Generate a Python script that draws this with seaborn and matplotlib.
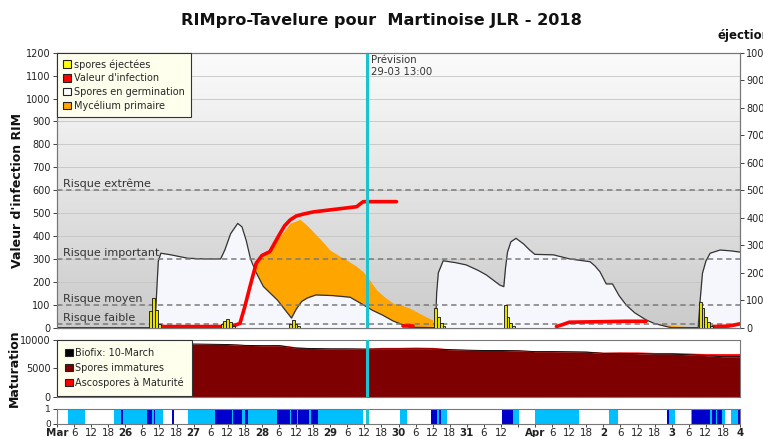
import numpy as np
import pandas as pd
import matplotlib
matplotlib.use("Agg")
import matplotlib.pyplot as plt
from matplotlib.patches import Patch
from matplotlib.colors import LinearSegmentedColormap
import seaborn as sns

# ---------------- data (hours since 25 March 00:00) ----------------
title = "RIMpro-Tavelure pour  Martinoise JLR - 2018"

germ_h = [0, 34.4, 35, 35.6, 36.5, 40, 46, 52, 57.5, 59, 61, 63.5, 65, 66.5, 68, 70, 72.5, 75,
          77.5, 80, 82.4, 84, 86, 88, 91, 97, 103, 107.6, 111, 114.4, 118, 121.7, 124, 133,
          133.4, 134, 135.7, 140, 143.8, 148, 150.9, 155.6, 157, 157.6, 158.3, 159.5, 161.3,
          164, 166, 167.9, 174.4, 180.2, 187.3, 189, 190.8, 193, 195.2, 197.5, 200, 203, 207,
          210, 214.2, 216, 225.3, 226, 226.8, 228, 229.5, 233, 237, 240]
germ_v = [0, 0, 150, 290, 325, 318, 303, 300, 300, 340, 410, 455, 440, 380, 300, 240, 180, 150,
          120, 80, 42, 80, 115, 130, 143, 140, 133, 100, 75, 55, 30, 12, 2, 0,
          150, 240, 292, 284, 274, 250, 230, 186, 179, 260, 330, 375, 390,
          365, 340, 320, 318, 300, 288, 270, 244, 191, 191, 140, 99, 65, 34,
          18, 5, 0, 0, 120, 237, 290, 325, 339, 335, 330]

myc_h = [0, 64, 66, 69.5, 72.4, 75, 77.2, 80, 81.9, 85.4, 88, 90, 93, 95.9, 99, 101.8, 105,
         107.6, 110, 112.3, 115, 118.2, 121, 124, 127, 130, 132, 132.5, 205, 207, 212, 218,
         222, 224, 240]
myc_v = [0, 0, 200, 288, 310, 350, 383, 425, 456, 473, 445, 419, 380, 339, 315, 295, 270,
         244, 205, 165, 135, 106, 99, 85, 65, 45, 34, 0, 0, 30, 15, 8,
         5, 0, 0]

inf_h = [37, 50, 58, 62, 64.3, 66, 67.8, 70, 72, 74.8, 76.5, 78.4, 80, 81.9, 84, 86.6, 90,
         95.9, 100, 105.3, 106.5, 107.6, 119.3,
         121.5, 125,
         175.5, 178, 180, 190, 200, 207,
         230.5, 236, 238, 240]
inf_v = [5, 5, 5, 8, 19, 92, 179, 281, 315, 332, 370, 412, 445, 470, 487, 496, 505,
         514, 520, 528, 540, 550, 550,
         6, 6,
         5, 15, 24, 26, 28, 28,
         5, 7, 12, 17]
inf_seg = [1] * 23 + [2] * 2 + [3] * 6 + [4] * 4

eject_h = [33, 34, 35, 36, 58, 59, 60, 61, 62, 82, 83, 84, 85,
           133, 134, 135, 136, 157.5, 158.5, 159.5, 160.5, 226, 227, 228, 229, 230]
eject_v = [60, 107, 64, 15, 15, 25, 31, 20, 8, 15, 28, 15, 5,
           71, 40, 18, 6, 83, 40, 16, 5, 93, 70, 40, 20, 8]

risk_levels = [600, 300, 100, 15]
risk_labels = ["Risque extrême", "Risque important", "Risque moyen", "Risque faible"]

mat_h = list(range(0, 241, 6))
mat_immature = [9300, 9300, 9300, 9300, 9300, 9300, 9300, 9300, 9300, 9250, 9200, 9050, 9000,
                9000, 8550, 8500, 8450, 8450, 8400, 8400, 8400, 8400, 8400, 8300, 8200, 8150,
                8150, 8100, 7950, 7950, 7900, 7850, 7650, 7650, 7600, 7500, 7500, 7400, 7250,
                7050, 7050]
mat_mature = [50, 50, 50, 50, 50, 50, 50, 50, 50, 100, 150, 150, 150, 200, 250, 100, 100, 100,
              150, 300, 300, 350, 300, 150, 150, 150, 150, 150, 150, 200, 200, 200, 200, 250,
              300, 300, 300, 300, 350, 550, 550]

wet_start = [0, 4, 10, 20, 22.5, 23.3, 31.5, 33.3, 34, 34.4, 37.4, 40.3, 41.1, 46.1, 55.5,
             61.4, 61.9, 64.9, 66, 67.2, 77.2, 81.8, 82.4, 84.2, 84.7, 88.6, 89.2, 91.8, 107.4,
             120.5, 122.9, 131.4, 133.4, 134.2, 135.1, 137.2, 156.5, 160.3, 162.2, 168, 183.6,
             193.8, 197.2, 214.2, 214.9, 217.2, 222.8, 223.3, 229.4, 230, 231.4, 232, 233.6,
             234.6, 237, 239.2]
wet_level = [0, 1, 0, 1, 2, 1, 2, 1, 2, 1, 0, 2, 0, 1, 2,
             1, 2, 1, 2, 1, 2, 1, 2, 1, 2, 1, 2, 1, 0,
             1, 0, 2, 1, 2, 1, 0, 2, 1, 0, 1, 0,
             1, 0, 2, 1, 0, 1, 2, 1, 2, 1, 2, 1,
             0, 1, 2]

day_labels = ["Mar", "26", "27", "28", "29", "30", "31", "Apr", "2", "3", "4"]
hidden_tick_labels = [162]
forecast_h = 109
forecast_text = "Prévision\n29-03 13:00"

# ---------------- style ----------------
sns.set_theme(style="white")
plt.rcParams['font.family'] = ['DejaVu Sans']
plt.rcParams['axes.linewidth'] = 0.8

fig = plt.figure(figsize=(7.63, 4.37), dpi=100)
W, H = 763, 437
L, R = 57, 740


def axes_px(top, bottom):
    return fig.add_axes([L / W, (H - bottom) / H, (R - L) / W, (bottom - top) / H])


ax = axes_px(52.7, 327.7)
axm = axes_px(340, 396.7)
axs = axes_px(408.7, 423.5)

# ---------------- main panel ----------------
grad = LinearSegmentedColormap.from_list("g", ["#cbcbcb", "#fbfbfb"])
ax.imshow(np.linspace(0, 1, 256).reshape(-1, 1), cmap=grad, origin="lower", aspect="auto",
          extent=[0, 240, 0, 1200], zorder=0)
for yv in range(100, 1200, 100):
    ax.axhline(yv, color="#c4c4c4", lw=0.6, zorder=1)
ax.fill_between(myc_h, 0, myc_v, color="#ffa500", lw=0, zorder=2)
ax.fill_between(germ_h, 0, germ_v, color="#f6f7fc", lw=0, zorder=3)
germ_df = pd.DataFrame({"h": germ_h, "v": germ_v})
sns.lineplot(data=germ_df, x="h", y="v", ax=ax, color="#333333", lw=0.9, zorder=4,
             estimator=None, sort=False)
for lv, lab in zip(risk_levels, risk_labels):
    ax.axhline(lv, color="#7a7a7a", lw=1.1, ls=(0, (3.5, 2.5)), zorder=5)
    ax.text(2, lv + 4, lab, fontsize=8, color="#333333", va="bottom", ha="left", zorder=6)
inf_df = pd.DataFrame({"h": inf_h, "v": inf_v, "seg": inf_seg})
sns.lineplot(data=inf_df, x="h", y="v", units="seg", estimator=None, ax=ax, color="#ff0000",
             lw=2.6, zorder=7, sort=False)
ax.axvline(forecast_h, color="#19c3cf", lw=2.2, zorder=8)
ax.text(forecast_h + 1.5, 1190, forecast_text, fontsize=7.3, color="#333333", va="top",
        ha="left", linespacing=1.25, zorder=9)
ax.set_xlim(0, 240)
ax.set_ylim(0, 1200)
ax.set_yticks(range(0, 1201, 100))
ax.set_xticks([])
ax.set_xlabel("")
ax.set_ylabel("")
ax.tick_params(axis="y", labelsize=7, colors="#222222", length=3, width=0.6, pad=1.5,
               left=True)
for sp in ax.spines.values():
    sp.set_color("#777777")
ax.spines["bottom"].set_color("#222222")

ax2 = ax.twinx()
ax2.bar(eject_h, eject_v, width=1.0, color="#e6e000", edgecolor="#111111", lw=0.6, zorder=3)
ax2.set_ylim(0, 1000)
ax2.set_yticks(range(0, 1001, 100))
ax2.tick_params(axis="y", labelsize=7, colors="#222222", length=3, width=0.6, pad=1.5,
                right=True)
ax2.set_ylabel("")
for sp in ax2.spines.values():
    sp.set_color("#777777")

handles = [Patch(facecolor="#ffff00", edgecolor="#222222", lw=0.8),
           Patch(facecolor="#ff0000", edgecolor="#222222", lw=0.8),
           Patch(facecolor="#ffffff", edgecolor="#222222", lw=0.8),
           Patch(facecolor="#ffa500", edgecolor="#222222", lw=0.8)]
leg = ax2.legend(handles, ["spores éjectées", "Valeur d'infection", "Spores en germination",
                           "Mycélium primaire"],
                 loc="upper left", bbox_to_anchor=(0, 1), borderaxespad=0, fontsize=7.0,
                 handlelength=0.8, handleheight=0.8, handletextpad=0.3, labelspacing=0.38,
                 borderpad=0.65, fancybox=False, framealpha=1, facecolor="#ffffee",
                 edgecolor="#333333")
leg.get_frame().set_linewidth(0.8)
leg.set_zorder(20)

# ---------------- maturation panel ----------------
mat_top = [a + b for a, b in zip(mat_immature, mat_mature)]
axm.fill_between(mat_h, 0, mat_immature, color="#7f0000", lw=0, zorder=2)
axm.fill_between(mat_h, mat_immature, mat_top, color="#ff0000", lw=0, zorder=2)
mat_df = pd.DataFrame({"h": mat_h, "v": mat_immature})
sns.lineplot(data=mat_df, x="h", y="v", ax=axm, color="#111111", lw=0.7, zorder=3)
axm.axvline(forecast_h, color="#19c3cf", lw=2.2, zorder=8)
axm.set_xlim(0, 240)
axm.set_ylim(0, 10000)
axm.set_yticks([0, 5000, 10000])
axm.set_xticks([])
axm.set_xlabel("")
axm.set_ylabel("")
axm.tick_params(axis="y", labelsize=7, colors="#222222", length=3, width=0.6, pad=1.5,
                left=True)
for sp in axm.spines.values():
    sp.set_color("#777777")
mh = [Patch(facecolor="#000000", edgecolor="#222222", lw=0.8),
      Patch(facecolor="#7f0000", edgecolor="#222222", lw=0.8),
      Patch(facecolor="#ff0000", edgecolor="#222222", lw=0.8)]
leg2 = axm.legend(mh, ["Biofix: 10-March", "Spores immatures", "Ascospores à Maturité"],
                  loc="upper left", bbox_to_anchor=(0, 1), borderaxespad=0, fontsize=7.0,
                  handlelength=0.8, handleheight=0.8, handletextpad=0.3, labelspacing=0.5,
                  borderpad=0.8, fancybox=False, framealpha=1, facecolor="#ffffee",
                  edgecolor="#333333")
leg2.get_frame().set_linewidth(0.8)
leg2.set_zorder(20)

# ---------------- wetness strip ----------------
wet_colors = ["#ffffff", "#00bfff", "#0000cd"]
wet_end = wet_start[1:] + [240]
for s, e, lv in zip(wet_start, wet_end, wet_level):
    axs.axvspan(s, e, color=wet_colors[lv], lw=0, zorder=1)
axs.axvline(forecast_h, color="#19c3cf", lw=2.2, zorder=8)
axs.set_xlim(0, 240)
axs.set_ylim(0, 1)
axs.set_yticks([0, 1])
xt = list(range(0, 241, 6))
xl = []
for h in xt:
    if h in hidden_tick_labels:
        xl.append("")
    else:
        xl.append(day_labels[h // 24] if h % 24 == 0 else str(h % 24))
axs.set_xticks(xt)
axs.set_xticklabels(xl)
for h, t in zip(xt, axs.get_xticklabels()):
    if h % 24 == 0:
        t.set_fontweight("bold")
axs.tick_params(axis="x", labelsize=7.4, colors="#222222", length=2.5, width=0.6, pad=0.5,
                bottom=True)
axs.tick_params(axis="y", labelsize=6.5, colors="#222222", length=3, width=0.6, pad=1.5,
                left=True)
for sp in axs.spines.values():
    sp.set_color("#777777")

# ---------------- texts ----------------
fig.text(0.5, 1 - 21 / H, title, ha="center", va="center", fontsize=11.6, fontweight="bold",
         color="#111111")
fig.text(717 / W, 1 - 36 / H, "éjections", ha="left", va="center", fontsize=8.5,
         fontweight="bold", color="#111111")
fig.text(18 / W, 1 - 190 / H, "Valeur d'infection RIM", rotation=90, ha="center",
         va="center", fontsize=9, fontweight="bold", color="#111111")
fig.text(14 / W, 1 - 368 / H, "Maturation", rotation=90, ha="center", va="center",
         fontsize=9, fontweight="bold", color="#111111")

fig.savefig("out.png", dpi=100)
